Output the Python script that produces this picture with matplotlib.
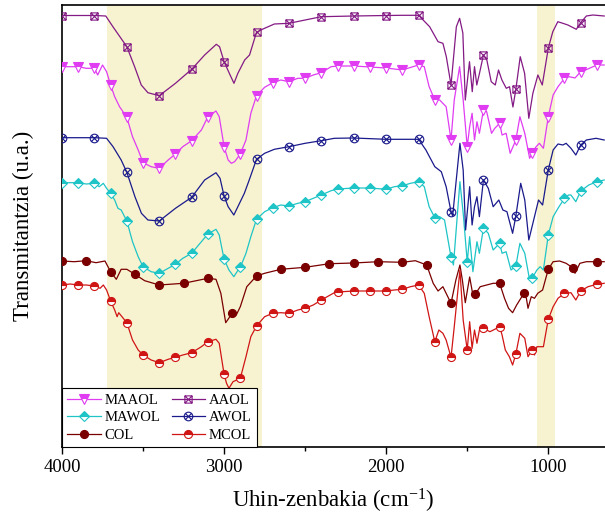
import numpy as np
import matplotlib
matplotlib.use("Agg")
import matplotlib.pyplot as plt
from matplotlib.path import Path

plt.rcParams['font.family'] = ['Liberation Serif', 'DejaVu Serif']
plt.rcParams['mathtext.fontset'] = 'custom'
plt.rcParams['mathtext.rm'] = 'Liberation Serif'
plt.rcParams['mathtext.it'] = 'Liberation Serif:italic'

# ---- data (wavenumber, offset transmittance in arbitrary units; axis is inverted) ----
aaol_wn = [4000, 3800, 3730, 3686, 3600, 3552, 3511, 3470, 3400, 3300, 3200, 3120, 3048, 3028, 3000,
           2963, 2939, 2915, 2873, 2843, 2800, 2764, 2690, 2600, 2500, 2400, 2200, 2000, 1900, 1800,
           1732, 1680, 1650, 1629, 1600, 1567, 1547, 1527, 1512, 1486, 1469, 1455, 1441, 1424, 1400,
           1379, 1352, 1327, 1307, 1286, 1259, 1239, 1218, 1200, 1173, 1146, 1120, 1095, 1064, 1037,
           1000, 972, 941, 910, 879, 827, 800, 765, 725, 655]
aaol_t = [15.5, 15.5, 16, 26.7, 46.7, 66.7, 85, 92.7, 95.7, 83.3, 69.3, 55, 44.3, 46.7, 61.7,
          75, 83.3, 73.3, 60, 55, 32.3, 29.3, 24, 23.3, 20, 16.7, 16, 15.5, 15.3, 15.3,
          26.7, 41.7, 43.3, 56.7, 85, 26.7, 18.3, 33, 100, 61.7, 91.7, 66.7, 85, 73, 55,
          60, 81.7, 85, 70, 80, 88.3, 86.7, 107, 89.3, 56.7, 73.3, 118.3, 93.3, 75, 85,
          48.3, 31.7, 21.7, 23.3, 25, 29.3, 22.7, 16, 15, 16]

maaol_wn = [4000, 3900, 3850, 3800, 3780, 3750, 3725, 3700, 3675, 3645, 3600, 3565, 3530, 3500, 3450,
            3400, 3345, 3300, 3255, 3200, 3140, 3100, 3050, 3030, 3000, 2975, 2955, 2935, 2900, 2865,
            2835, 2800, 2750, 2700, 2650, 2600, 2545, 2500, 2450, 2400, 2340, 2300, 2200, 2100, 2000,
            1900, 1855, 1800, 1765, 1735, 1700, 1670, 1630, 1600, 1580, 1547, 1525, 1500, 1485, 1470,
            1455, 1440, 1425, 1400, 1380, 1350, 1330, 1300, 1285, 1260, 1235, 1200, 1175, 1145, 1115,
            1100, 1075, 1055, 1030, 1000, 970, 940, 900, 870, 835, 800, 770, 700, 655]
maaol_t = [66.7, 66.7, 68.3, 68.3, 75, 65, 71.7, 85, 96.7, 106.7, 117.3, 136.7, 150, 162.7, 166.7,
           168.3, 160, 154, 146.7, 140.7, 130, 116.7, 111, 116.7, 146.7, 160, 163.3, 161.7, 154, 140,
           113.3, 95.7, 87.3, 82.7, 80, 81.7, 78.3, 78.3, 75, 72.7, 66.7, 66, 66, 67, 68,
           70, 67.7, 65, 66.7, 86.7, 100, 100, 106.7, 140, 100, 66.7, 100, 146.7, 126.7, 113.3,
           140, 121.7, 133.3, 110, 111.7, 133.3, 128.3, 123.3, 135, 133.3, 153.3, 140, 116.7, 133.3, 158.3,
           153.3, 146.7, 143.3, 148.3, 116.7, 95, 86.7, 78.3, 76.7, 78, 71.7, 70, 65, 65]

mawol_wn = [4000, 3900, 3850, 3800, 3770, 3745, 3725, 3700, 3675, 3655, 3635, 3600, 3565, 3530, 3500,
            3450, 3400, 3345, 3300, 3255, 3200, 3140, 3100, 3050, 3030, 3000, 2970, 2940, 2920, 2900,
            2865, 2835, 2800, 2750, 2700, 2650, 2600, 2545, 2500, 2450, 2400, 2340, 2300, 2200, 2100,
            2000, 1950, 1900, 1850, 1800, 1765, 1735, 1700, 1670, 1640, 1600, 1585, 1545, 1525, 1500,
            1485, 1465, 1440, 1425, 1400, 1370, 1340, 1300, 1285, 1260, 1230, 1200, 1175, 1145, 1115,
            1100, 1070, 1050, 1030, 1000, 970, 940, 900, 875, 860, 830, 800, 750, 700, 655]
mawol_t = [182.7, 182.7, 184, 183.3, 186.7, 183.3, 188.3, 193.3, 200, 208.3, 210, 221, 241.7, 256.7, 266.7,
           271.7, 273.3, 268.3, 264.3, 258.3, 253.3, 241.7, 234, 229.3, 235, 259.3, 270, 276.7, 271.7, 267.3,
           253.3, 236.7, 219.3, 211.7, 207.7, 205, 206, 203.3, 201.7, 198.3, 195, 190.7, 189, 188, 188,
           189.3, 186.7, 185.7, 183.3, 181.7, 186.7, 206.7, 217.7, 216.7, 220, 257, 265, 181.7, 213, 261.7,
           236.7, 271.7, 241.7, 253.3, 228.3, 233.3, 250, 243.3, 253.3, 251.7, 270, 266, 243.3, 253.3, 280,
           278.3, 270, 266.7, 270, 235, 216.7, 208.3, 198.3, 195, 195, 201.7, 191, 185, 181.7, 180]

awol_wn = [4000, 3800, 3725, 3685, 3635, 3600, 3550, 3510, 3470, 3400, 3300, 3200, 3120, 3050, 3025,
           3000, 2975, 2940, 2915, 2875, 2845, 2800, 2750, 2690, 2600, 2500, 2400, 2320, 2200, 2000,
           1900, 1800, 1755, 1700, 1660, 1630, 1600, 1590, 1545, 1525, 1510, 1485, 1470, 1455, 1440,
           1425, 1400, 1370, 1340, 1305, 1280, 1255, 1220, 1200, 1170, 1145, 1120, 1095, 1060, 1035,
           1000, 970, 940, 910, 890, 860, 830, 800, 765, 705, 655]
awol_t = [137.7, 137.7, 138.3, 146.7, 160, 172.3, 196.7, 213.3, 220, 221, 208.3, 197.3, 180, 172.7, 178.3,
          196, 206.7, 215, 206.7, 193.3, 180, 159.3, 153.3, 149.3, 146.7, 143.3, 140.7, 138.3, 138, 139.3,
          139.3, 139.3, 150, 166.7, 171.7, 186.7, 211.7, 216, 143.3, 170, 230, 186.7, 225, 206.7, 196.7,
          216.7, 180, 188.3, 206.7, 200, 210, 211.7, 233.3, 216, 183.3, 200, 240, 223.3, 200, 205,
          170, 150, 144, 145, 143.3, 148.3, 155, 145, 140, 138.3, 140]

col_wn = [4000, 3925, 3850, 3790, 3735, 3700, 3665, 3635, 3600, 3550, 3490, 3400, 3250, 3100, 3050,
          3020, 2990, 2950, 2925, 2900, 2860, 2800, 2750, 2650, 2500, 2350, 2200, 2050, 1900, 1820,
          1750, 1710, 1680, 1650, 1600, 1570, 1545, 1530, 1512, 1485, 1465, 1450, 1420, 1380, 1340,
          1300, 1270, 1245, 1220, 1195, 1150, 1135, 1125, 1105, 1085, 1065, 1035, 1000, 970, 930,
          890, 850, 835, 805, 765, 700, 655]
col_t = [261, 261.7, 260.7, 262.7, 261, 271.7, 279.3, 269.3, 269.3, 274.3, 280.7, 285, 283.3, 278.3, 279.3,
         293.3, 322.7, 313.3, 315, 306.7, 286.7, 276, 273.3, 269.3, 267.3, 263.7, 263, 261.7, 262.3, 260.7,
         265, 283.3, 291, 286.7, 303.3, 280, 265, 280, 302.7, 277, 295, 294, 286.7, 285, 283.3,
         283.3, 298.3, 308.3, 312.7, 305, 293.3, 298.3, 308.3, 296.7, 298.3, 293.3, 290, 269.3, 261.7, 261,
         263.3, 267.7, 273.3, 263.3, 261.7, 261.7, 261.7]

mcol_wn = [4000, 3950, 3900, 3850, 3800, 3765, 3745, 3725, 3700, 3675, 3660, 3650, 3630, 3600, 3565,
           3530, 3500, 3450, 3400, 3345, 3300, 3255, 3200, 3140, 3100, 3050, 3030, 3000, 2985, 2970,
           2945, 2900, 2865, 2835, 2800, 2750, 2700, 2650, 2600, 2545, 2500, 2450, 2400, 2320, 2300,
           2200, 2100, 2000, 1950, 1900, 1850, 1800, 1765, 1735, 1700, 1675, 1650, 1630, 1600, 1580,
           1545, 1525, 1500, 1485, 1470, 1455, 1440, 1425, 1400, 1360, 1330, 1300, 1285, 1265, 1240,
           1220, 1200, 1175, 1145, 1125, 1100, 1085, 1070, 1030, 1000, 970, 940, 900, 860, 830,
           800, 755, 700, 655]
mcol_t = [285, 284, 285, 285, 286, 288.3, 285, 290, 301, 310, 316.7, 312.7, 316.7, 322.7, 340,
          350, 355, 360, 362.7, 359.3, 357.3, 355, 352.7, 346.7, 341.7, 339.3, 343.3, 374.3, 383.3, 388.3,
          381.7, 378.3, 356.7, 336.7, 326, 316.7, 313.3, 312.7, 313.3, 310, 308.3, 305, 300, 292.7, 292,
          291, 291, 291, 290, 289.3, 286.7, 285, 293.3, 316.7, 341.7, 330, 333.3, 340, 357.3, 326.7,
          270, 320, 350, 321.7, 348.3, 330, 343.3, 330, 328.3, 331.7, 329.3, 326.7, 335, 350, 356.7,
          365, 354, 333.3, 338.3, 356.7, 350, 355, 346.7, 346.7, 319.3, 306.7, 298.3, 293.3, 292.7, 300,
          291, 286.7, 284.3, 283.3]

shade_bands = [(3725, 2768), (1067, 960)]

# ---- custom markers ----
box_x = Path([(-1, -1), (1, -1), (1, 1), (-1, 1), (-1, -1), (-1, -1), (1, 1), (-1, 1), (1, -1)],
             [Path.MOVETO, Path.LINETO, Path.LINETO, Path.LINETO, Path.CLOSEPOLY,
              Path.MOVETO, Path.LINETO, Path.MOVETO, Path.LINETO])
circ_x = Path.make_compound_path(
    Path.unit_circle(),
    Path([(-0.72, -0.72), (0.72, 0.72), (-0.72, 0.72), (0.72, -0.72)],
         [Path.MOVETO, Path.LINETO, Path.MOVETO, Path.LINETO]))

series = [
    # label, wn, t, color, marker, size, fillstyle, step
    ("MAAOL", maaol_wn, maaol_t, "#E03CF2", "v", 6.5, "top", 100),
    ("MAWOL", mawol_wn, mawol_t, "#1EC4C6", "D", 5.2, "top", 100),
    ("COL", col_wn, col_t, "#7A0000", "o", 5.8, "full", 150),
    ("AAOL", aaol_wn, aaol_t, "#841A84", box_x, 5.2, "none", 200),
    ("AWOL", awol_wn, awol_t, "#1A1A8C", circ_x, 6.2, "none", 200),
    ("MCOL", mcol_wn, mcol_t, "#D01515", "o", 5.8, "top", 100),
]

fig = plt.figure(figsize=(6.05, 5.21), dpi=100)
ax = fig.add_axes([62 / 605, (521 - 447) / 521, (605 - 62) / 605, (447 - 5) / 521])

for a, b in shade_bands:
    ax.axvspan(a, b, color="#F7F3D1", lw=0, zorder=0)

handles = {}
for label, wn, t, color, marker, ms, fs, step in series:
    wn = np.asarray(wn)
    mask = list(np.isin(wn, np.arange(4000, 640, -step)))
    kw = dict(color=color, lw=0.9, marker=marker, markersize=ms, markevery=mask,
              markeredgecolor=color, markeredgewidth=0.8, label=label, zorder=3)
    if fs == "top":
        kw.update(fillstyle="top", markerfacecolor=color, markerfacecoloralt="white")
    elif fs == "none":
        kw.update(markerfacecolor="none")
    else:
        kw.update(markerfacecolor=color)
    h, = ax.plot(wn, t, **kw)
    handles[label] = h

ax.set_xlim(4000, 650)
ax.set_ylim(447, 5)
ax.set_yticks([])
ax.set_xticks([4000, 3000, 2000, 1000])
ax.set_xticks([3500, 2500, 1500], minor=True)
ax.tick_params(axis="x", which="major", direction="out", length=5, width=1.0, labelsize=13.5, top=False)
ax.tick_params(axis="x", which="minor", direction="out", length=3, width=1.0, top=False)

for side in ["left", "bottom", "top"]:
    ax.spines[side].set_color("black")
    ax.spines[side].set_linewidth(1.2)
ax.spines["right"].set_visible(False)

ax.set_xlabel("Uhin-zenbakia (cm$^{-1}$)", fontsize=16.5, labelpad=8)
ax.set_ylabel("Transmitantzia (u.a.)", fontsize=16.5, labelpad=20)

order = ["MAAOL", "MAWOL", "COL", "AAOL", "AWOL", "MCOL"]
leg = ax.legend([handles[k] for k in order], order, ncol=2, loc="lower left",
                bbox_to_anchor=(0, 0), borderaxespad=0, fancybox=False, framealpha=1,
                edgecolor="black", fontsize=10.5, handlelength=2.3, handletextpad=0.25,
                columnspacing=0.8, labelspacing=0.3, borderpad=0.35)
leg.get_frame().set_linewidth(0.8)
leg.set_zorder(5)

fig.savefig("out.png", dpi=100)
